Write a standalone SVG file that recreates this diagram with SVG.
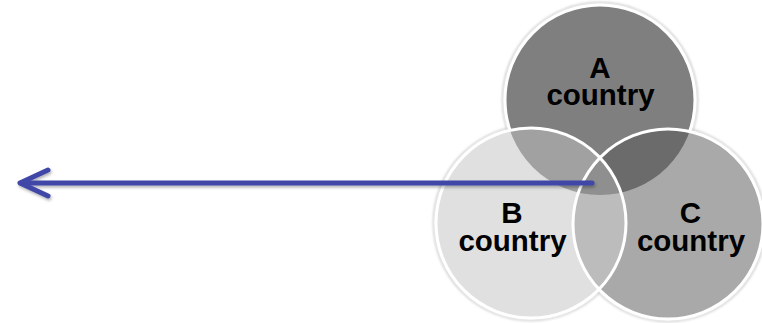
<svg xmlns="http://www.w3.org/2000/svg" width="762" height="323" viewBox="0 0 762 323">
  <style>
    .lbl { font-family: "Liberation Sans", Arial, sans-serif; font-size: 29.5px; font-weight: bold; fill: #000; text-anchor: middle; }
    .ring { fill: none; stroke: #ffffff; stroke-width: 3; }
    .halo { fill: none; stroke: #c8c8c8; stroke-width: 1.5; }
    .arrow { fill: none; stroke: #3f47a7; stroke-width: 5; stroke-linecap: round; stroke-linejoin: round; }
  </style>
  <defs>
    <clipPath id="clipA"><circle cx="600" cy="100" r="95"/></clipPath>
    <clipPath id="clipB"><circle cx="531" cy="223" r="95"/></clipPath>
    <filter id="soft" x="-10%" y="-10%" width="120%" height="120%">
      <feGaussianBlur stdDeviation="0.8"/>
    </filter>
    <filter id="shadow" x="-5%" y="-50%" width="110%" height="200%">
      <feDropShadow dx="1" dy="2" stdDeviation="1.6" flood-color="#000" flood-opacity="0.3"/>
    </filter>
  </defs>
  <rect width="762" height="323" fill="#ffffff"/>

  <g id="halos" filter="url(#soft)">
    <circle class="halo" cx="600" cy="100" r="97.5"/>
    <circle class="halo" cx="531" cy="223" r="97.5"/>
    <circle class="halo" cx="668" cy="224" r="97.5"/>
  </g>

  <g id="node-A">
    <circle cx="600" cy="100" r="95" fill="#7f7f7f" stroke="#ffffff" stroke-width="3"/>
    <text class="lbl" x="600" y="78">A</text>
    <text class="lbl" x="600.5" y="105">country</text>
  </g>

  <g id="node-B">
    <circle cx="531" cy="223" r="95" fill="#e0e0e0"/>
    <text class="lbl" x="512" y="223">B</text>
    <text class="lbl" x="512.5" y="251">country</text>
  </g>

  <g id="node-C">
    <circle cx="668" cy="224" r="95" fill="#a9a9a9"/>
    <text class="lbl" x="690.5" y="223">C</text>
    <text class="lbl" x="691" y="251">country</text>
  </g>

  <g id="overlaps">
    <circle cx="531" cy="223" r="95" fill="#a1a1a1" clip-path="url(#clipA)"/>
    <circle cx="668" cy="224" r="95" fill="#6b6b6b" clip-path="url(#clipA)"/>
    <circle cx="668" cy="224" r="95" fill="#bcbcbc" clip-path="url(#clipB)"/>
    <g clip-path="url(#clipB)">
      <circle cx="668" cy="224" r="95" fill="#8f8f8f" clip-path="url(#clipA)"/>
    </g>
  </g>

  <g id="outlines">
    <circle class="ring" cx="531" cy="223" r="95"/>
    <circle class="ring" cx="668" cy="224" r="95"/>
  </g>

  <g id="connectors" filter="url(#shadow)">
    <line class="arrow" x1="592" y1="183" x2="21" y2="183"/>
    <polyline class="arrow" points="48,170 20,183 48,196"/>
  </g>
</svg>
